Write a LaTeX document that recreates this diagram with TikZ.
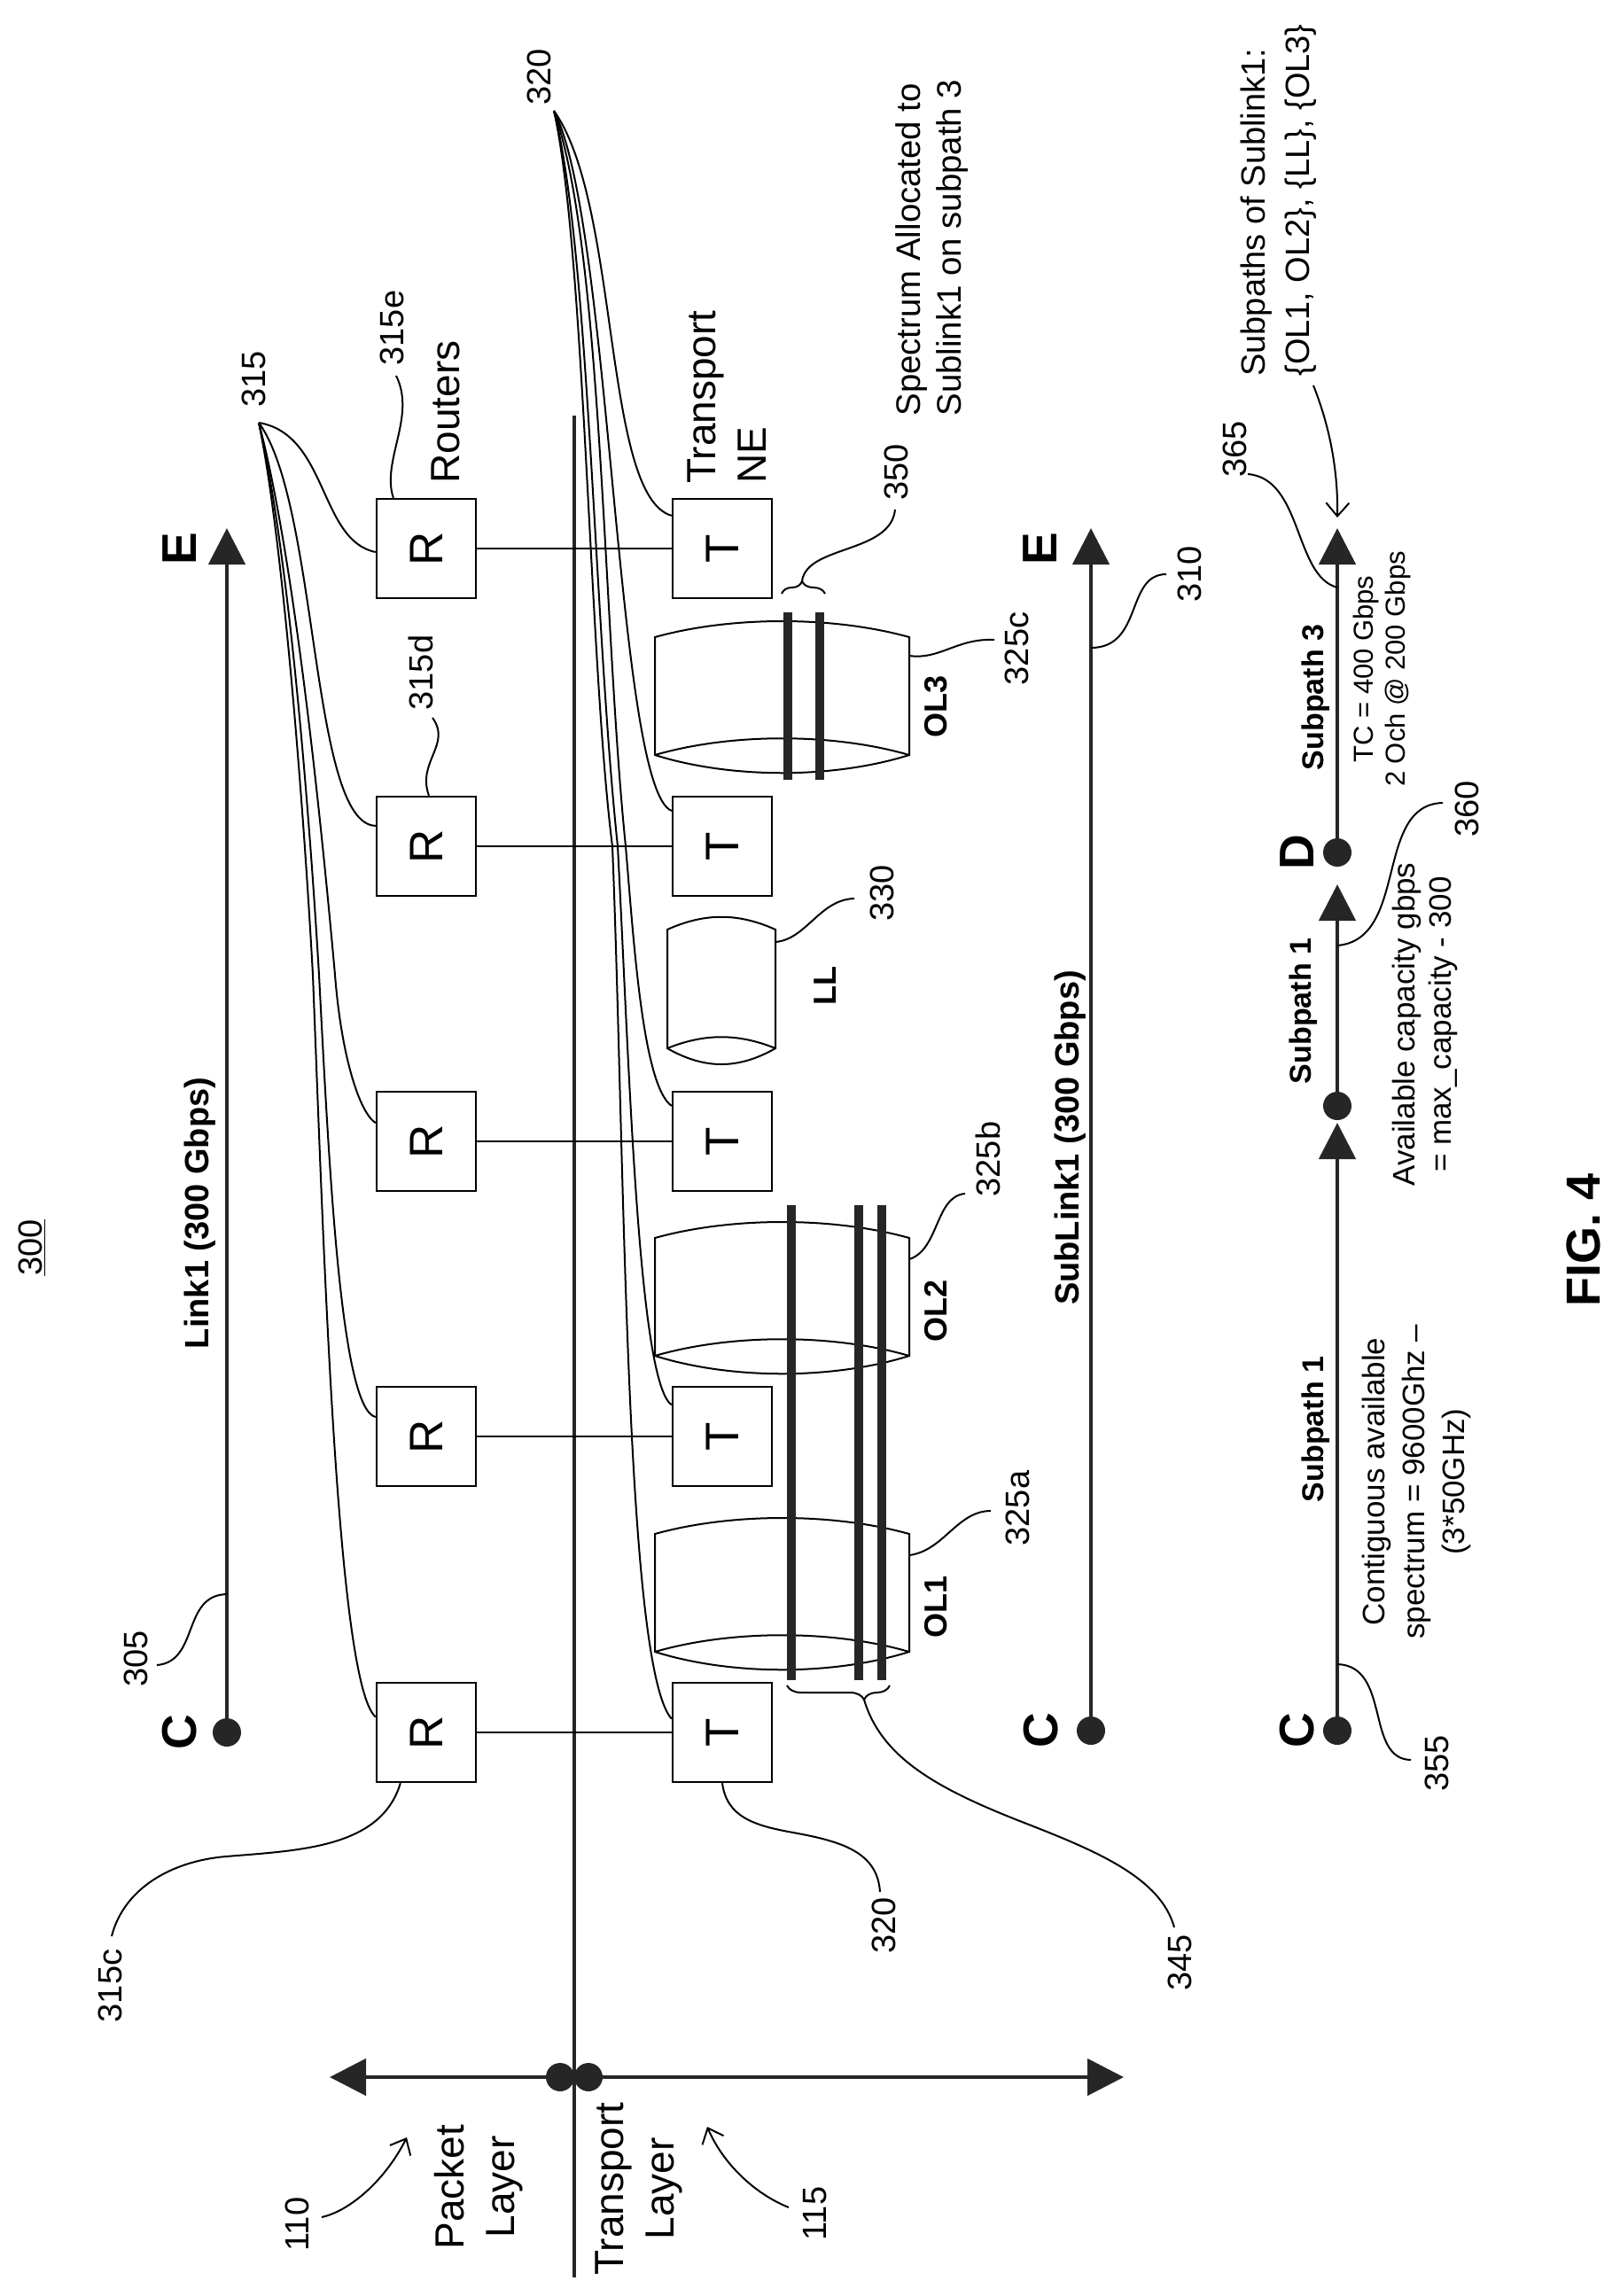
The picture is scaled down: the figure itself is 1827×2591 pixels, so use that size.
\documentclass[tikz,border=0pt]{standalone}
\usepackage{graphicx}
\usepackage{fontspec}
\setmainfont{Liberation Sans}
\usetikzlibrary{arrows.meta,decorations.pathreplacing}
\definecolor{darkgr}{gray}{0.15}
\tikzset{
	nbox/.style={draw,line width=1.2pt,minimum size=56pt,inner sep=0pt,font=\fontsize{26.5}{30}\selectfont},
	dot/.style={circle,fill=darkgr,minimum size=16pt,inner sep=0pt},
	axis/.style={line width=2.4pt,draw=darkgr,-{Triangle[length=20.5pt,width=20.5pt]}},
	leader/.style={line width=1pt},
	pointer/.style={line width=1pt,-{Straight Barb[length=7.5pt,width=13pt]}},
	fibre/.style={line width=1pt},
	lambda/.style={line width=5pt,draw=darkgr},
	brc/.style={line width=1pt,decorate},
	num/.style={rotate=90,inner sep=0pt,font=\fontsize{19}{22}\selectfont},
	word/.style={rotate=90,inner sep=0pt,align=center,font=\fontsize{23}{28.5}\selectfont},
	note/.style={rotate=90,inner sep=0pt,align=center,font=\fontsize{17.5}{22.5}\selectfont},
	head/.style={rotate=90,inner sep=0pt,font=\bfseries\fontsize{19}{22}\selectfont},
	sub/.style={rotate=90,inner sep=0pt,font=\bfseries\fontsize{17}{20}\selectfont},
	ends/.style={rotate=90,inner sep=0pt,font=\bfseries\fontsize{27.5}{30}\selectfont},
}

\begin{document}
\begin{tikzpicture}[x=0.5pt,y=-0.5pt]
\useasboundingbox (0,0) rectangle (1827,2591);

% layer axis and divider
\draw[line width=2.4pt,draw=darkgr] (648,469) -- (648,2570);
\node[dot] (up) at (632,2344) {};
\node[dot] (down) at (664,2344) {};
\coordinate (uptip) at (372,2344);
\coordinate (downtip) at (1268,2344);
\draw[axis] (up) -- (uptip);
\draw[axis] (down) -- (downtip);

% routers and transport
\foreach \n/\y in {1/1955,2/1621,3/1288,4/955,5/619}{
	\node[nbox] (r\n) at (481,\y) {\rotatebox{90}{R}};
	\node[nbox] (t\n) at (815,\y) {\rotatebox{90}{T}};
	\draw[leader] (r\n) -- (t\n);
}

% the three links
\node[dot] (c1) at (256,1955) {};
\coordinate (e1) at (256,596);
\draw[axis] (c1) -- (e1);
\node[dot] (c2) at (1231,1953) {};
\coordinate (e2) at (1231,596);
\draw[axis] (c2) -- (e2);
\node[dot] (c3) at (1509,1953) {};
\node[dot] (m3) at (1509,1248) {};
\node[dot] (d3) at (1509,962) {};
\coordinate (a3) at (1509,1267);
\coordinate (b3) at (1509,998);
\coordinate (e3) at (1509,596);
\draw[axis] (c3) -- (a3);
\draw[axis] (m3) -- (b3);
\draw[axis] (d3) -- (e3);

% fibre spans
\foreach \y in {719,1397,1731}{
	\draw[fibre] (739,\y) .. controls (825,{\y-24}) and (940,{\y-24}) .. (1026,\y)
		-- (1026,{\y+133}) .. controls (940,{\y+160}) and (825,{\y+160}) .. (739,{\y+133})
		-- cycle;
	\draw[fibre] (739,{\y+133}) .. controls (825,{\y+108}) and (940,{\y+108}) .. (1026,{\y+133});
}
\draw[fibre] (753,1049) .. controls (795,1030) and (833,1030) .. (875,1049)
	-- (875,1183) .. controls (833,1207) and (795,1207) .. (753,1183) -- cycle;
\draw[fibre] (753,1183) .. controls (795,1166) and (833,1166) .. (875,1183);

% channels
\foreach \x in {893,969,995}{
	\draw[lambda] (\x,1360) -- (\x,1896);
}
\foreach \x in {889,925}{
	\draw[lambda] (\x,691) -- (\x,880);
}
\draw[brc,decoration={brace,amplitude=8pt,aspect=0.25}] (1004,1902) -- (888,1902);
\draw[brc,decoration={brace,amplitude=7pt,aspect=0.47}] (882,670) -- (931,670);
\coordinate (b345) at (975,1918);
\coordinate (b350) at (905,656);

% texts
\node[num] at (36,1408) {\underline{300}};
\node[head] at (226,1369) {Link1 (300 Gbps)};
\node[head] at (1208,1284) {SubLink1 (300 Gbps)};
\node[ends] at (203,1955) {C};
\node[ends] at (203,619) {E};
\node[ends] at (1175,1953) {C};
\node[ends] at (1174,619) {E};
\node[ends] at (1464,1953) {C};
\node[ends] at (1464,962) {D};
\node[word] at (540,2468) {Packet\\Layer};
\node[word] at (721,2470) {Transport\\Layer};
\node[word,anchor=west,align=left] at (503,546) {Routers};
\node[word,anchor=west,align=left] at (820,546) {Transport\\NE};
\node[word,anchor=west,align=left,font=\fontsize{19.2}{23}\selectfont] at (1052,470) {Spectrum Allocated to\\Sublink1 on subpath 3};
\node[word,anchor=west,align=left,font=\fontsize{19}{25}\selectfont] at (1443,425) {Subpaths of Sublink1:\\\{OL1, OL2\}, \{LL\}, \{OL3\}};
\node[sub,font=\bfseries\fontsize{18}{20}\selectfont] at (1056,1813) {OL1};
\node[sub,font=\bfseries\fontsize{18}{20}\selectfont] at (1056,1479) {OL2};
\node[sub,font=\bfseries\fontsize{18}{20}\selectfont] at (1056,797) {OL3};
\node[sub,font=\bfseries\fontsize{18}{20}\selectfont] at (931,1112) {LL};
\node[sub] at (1485,1613) {Subpath 1};
\node[sub] at (1471,1141) {Subpath 1};
\node[sub] at (1485,787) {Subpath 3};
\node[note] at (1598,1672) {Contiguous available\\spectrum = 9600Ghz --\\(3*50GHz)};
\node[note,font=\fontsize{17.5}{20.5}\selectfont] at (1608,1156) {Available capacity gbps\\= max\_capacity - 300};
\node[note,font=\fontsize{15.5}{18}\selectfont] at (1559,755) {TC = 400 Gbps\\2 Och @ 200 Gbps};
\node[rotate=90,inner sep=0pt,font=\bfseries\fontsize{27}{30}\selectfont] at (1787,1399) {FIG. 4};

% reference numerals
\node[num] (n110) at (335,2510) {110};
\node[num] (n115) at (920,2498) {115};
\node[num] (n305) at (153,1872) {305};
\node[num] (n310) at (1342,648) {310};
\node[num] (n315) at (286,428) {315};
\node[num] (n315c) at (124,2241) {315c};
\node[num] (n315d) at (475,759) {315d};
\node[num] (n315e) at (442,370) {315e};
\node[num] (n320) at (608,87) {320};
\node[num] (n320b) at (997,2173) {320};
\node[num] (n325a) at (1148,1702) {325a};
\node[num] (n325b) at (1115,1308) {325b};
\node[num] (n325c) at (1147,732) {325c};
\node[num] (n330) at (995,1008) {330};
\node[num] (n345) at (1331,2215) {345};
\node[num] (n350) at (1011,533) {350};
\node[num] (n355) at (1621,1990) {355};
\node[num] (n360) at (1655,913) {360};
\node[num] (n365) at (1393,507) {365};

% leaders to routers
\coordinate (p315) at (292,477);
\draw[leader] (p315) .. controls (318,600) and (342,900) .. (353,1100)
	.. controls (365,1400) and (380,1900) .. (r1.163);
\draw[leader] (p315) .. controls (325,620) and (348,900) .. (360,1100)
	.. controls (372,1330) and (385,1590) .. (r2.159);
\draw[leader] (p315) .. controls (330,620) and (360,900) .. (378,1100)
	.. controls (385,1190) and (405,1255) .. (r3.160);
\draw[leader] (p315) .. controls (360,570) and (350,930) .. (r4.158);
\draw[leader] (p315) .. controls (370,490) and (360,610) .. (r5.184);

% leaders to transport
\coordinate (p320) at (625,125);
\draw[leader] (p320) .. controls (660,280) and (665,750) .. (691,955)
	.. controls (705,1300) and (705,1880) .. (t1.165);
\draw[leader] (p320) .. controls (665,280) and (670,700) .. (697,955)
	.. controls (710,1200) and (720,1560) .. (t2.148);
\draw[leader] (p320) .. controls (680,280) and (680,700) .. (706,955)
	.. controls (715,1060) and (725,1225) .. (t3.145);
\draw[leader] (p320) .. controls (690,250) and (695,890) .. (t4.145);
\draw[leader] (p320) .. controls (700,230) and (680,560) .. (t5.147);

% other leaders
\coordinate (s305) at (256,1799);
\coordinate (s310) at (1231,731);
\coordinate (s325a) at (1026,1755);
\coordinate (s325b) at (1026,1421);
\coordinate (s325c) at (1026,740);
\coordinate (s330) at (875,1063);
\coordinate (s355) at (1509,1878);
\coordinate (s360) at (1509,1067);
\coordinate (s365) at (1509,663);
\coordinate (q110) at (459,2412);
\coordinate (q115) at (798,2400);
\coordinate (q365) at (1509,584);
\coordinate (f315c) at (126,2185);
\coordinate (f305) at (177,1879);
\coordinate (f320) at (993,2135);
\coordinate (f345) at (1325,2175);
\coordinate (f315d) at (488,810);
\coordinate (f315e) at (447,424);
\coordinate (f325a) at (1118,1705);
\coordinate (f325b) at (1089,1347);
\coordinate (f325c) at (1122,722);
\coordinate (f330) at (964,1014);
\coordinate (f350) at (1010,575);
\coordinate (f310) at (1316,648);
\coordinate (f365) at (1408,535);
\coordinate (f360) at (1628,906);
\coordinate (f355) at (1592,1986);
\coordinate (f110) at (363,2502);
\coordinate (f115) at (890,2491);
\coordinate (f366) at (1482,435);
\draw[leader] (f315c) .. controls (140,2130) and (195,2100) .. (255,2095)
	.. controls (340,2088) and (430,2085) .. (r1.243);
\draw[leader] (f305) .. controls (225,1875) and (205,1800) .. (s305);
\draw[leader] (t1.south) .. controls (820,2050) and (850,2060) .. (895,2068)
	.. controls (950,2078) and (990,2090) .. (f320);
\draw[leader] (b345) .. controls (995,1985) and (1060,2020) .. (1161,2059)
	.. controls (1240,2090) and (1310,2120) .. (f345);
\draw[leader] (f315e) .. controls (470,470) and (430,520) .. (r5.123);
\draw[leader] (f315d) .. controls (510,840) and (470,860) .. (r4.87);
\draw[leader] (s325a) .. controls (1065,1750) and (1080,1705) .. (f325a);
\draw[leader] (s325b) .. controls (1060,1410) and (1055,1350) .. (f325b);
\draw[leader] (s325c) .. controls (1060,745) and (1080,720) .. (f325c);
\draw[leader] (s330) .. controls (910,1060) and (925,1015) .. (f330);
\draw[leader] (b350) .. controls (910,615) and (1005,625) .. (f350);
\draw[leader] (s310) .. controls (1290,731) and (1270,648) .. (f310);
\draw[leader] (f365) .. controls (1470,540) and (1460,650) .. (s365);
\draw[leader] (s360) .. controls (1590,1060) and (1550,908) .. (f360);
\draw[leader] (s355) .. controls (1570,1880) and (1540,1985) .. (f355);
\draw[pointer] (f110) .. controls (395,2495) and (435,2460) .. (q110);
\draw[pointer] (f115) .. controls (850,2475) and (815,2440) .. (q115);
\draw[pointer] (f366) .. controls (1500,480) and (1510,530) .. (q365);
\end{tikzpicture}
\end{document}
